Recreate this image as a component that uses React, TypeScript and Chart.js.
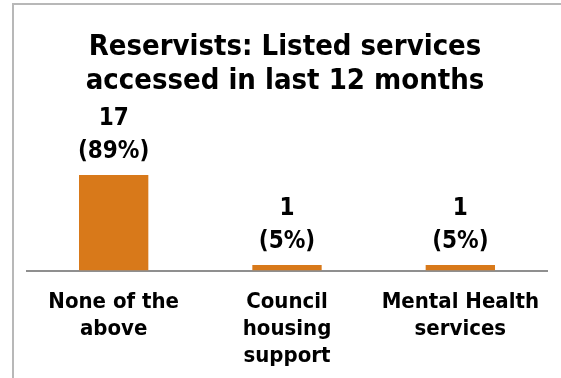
import React, { useEffect, useRef } from "react";
import { Chart, registerables } from "chart.js";

Chart.register(...registerables);

const categories: string[][] = [
  ["None of the", "above"],
  ["Council", "housing", "support"],
  ["Mental Health", "services"],
];
const counts: number[] = [17, 1, 1];
const percents: number[] = [89, 5, 5];
const titleLines: string[] = ["Reservists: Listed services", "accessed in last 12 months"];

const FONT = "'DejaVu Sans Condensed', 'DejaVu Sans', sans-serif";
const BAR_COLOR = "#D8791A";

export default function App() {
  const canvasRef = useRef<HTMLCanvasElement | null>(null);

  useEffect(() => {
    if (!canvasRef.current) return;

    const titlePlugin = {
      id: "customTitle",
      afterDraw(chart: any) {
        const ctx = chart.ctx;
        const cx = (chart.chartArea.left + chart.chartArea.right) / 2 - 2;
        ctx.save();
        ctx.fillStyle = "#000";
        ctx.font = `bold 29px ${FONT}`;
        ctx.textAlign = "center";
        ctx.textBaseline = "alphabetic";
        ctx.fillText(titleLines[0], cx, 55);
        ctx.fillText(titleLines[1], cx, 89);
        ctx.restore();
      },
    };

    const labelPlugin = {
      id: "barLabels",
      afterDatasetsDraw(chart: any) {
        const ctx = chart.ctx;
        const meta = chart.getDatasetMeta(0);
        ctx.save();
        ctx.fillStyle = "#000";
        ctx.font = `bold 24px ${FONT}`;
        ctx.textAlign = "center";
        ctx.textBaseline = "alphabetic";
        meta.data.forEach((el: any, i: number) => {
          const x = el.x;
          const y = el.y;
          ctx.fillText(`(${percents[i]}%)`, x, y - 17);
          ctx.fillText(`${counts[i]}`, x, y - 17 - 33);
        });
        ctx.restore();
      },
    };

    const chart = new Chart(canvasRef.current, {
      type: "bar",
      data: {
        labels: categories,
        datasets: [
          {
            data: counts,
            backgroundColor: BAR_COLOR,
            borderWidth: 0,
            barPercentage: 0.4,
            categoryPercentage: 1,
          },
        ],
      },
      options: {
        responsive: false,
        animation: false,
        layout: { padding: { left: 27, right: 14, top: 158, bottom: -5 } },
        plugins: {
          legend: { display: false },
          title: { display: false },
          tooltip: { enabled: false },
        },
        scales: {
          x: {
            grid: { display: false, drawTicks: false },
            border: { display: true, color: "#8f8f8f", width: 2 },
            ticks: {
              color: "#000",
              padding: 18,
              maxRotation: 0,
              autoSkip: false,
              font: { family: FONT, size: 22, weight: "bold", lineHeight: 1.23 },
            },
          },
          y: {
            display: false,
            min: 0,
            max: 20,
          },
        },
      },
      plugins: [titlePlugin, labelPlugin],
    });

    return () => chart.destroy();
  }, []);

  return (
    <div style={{ position: "fixed", left: 0, top: 0, width: 561, height: 378, background: "#fff", overflow: "hidden" }}>
      <div
        style={{
          position: "absolute",
          left: 12,
          top: 3,
          right: -10,
          bottom: -10,
          borderTop: "2px solid #b8b8b8",
          borderLeft: "2px solid #b8b8b8",
        }}
      />
      <canvas ref={canvasRef} width={561} height={378} style={{ position: "absolute", left: 0, top: 0 }} />
    </div>
  );
}
